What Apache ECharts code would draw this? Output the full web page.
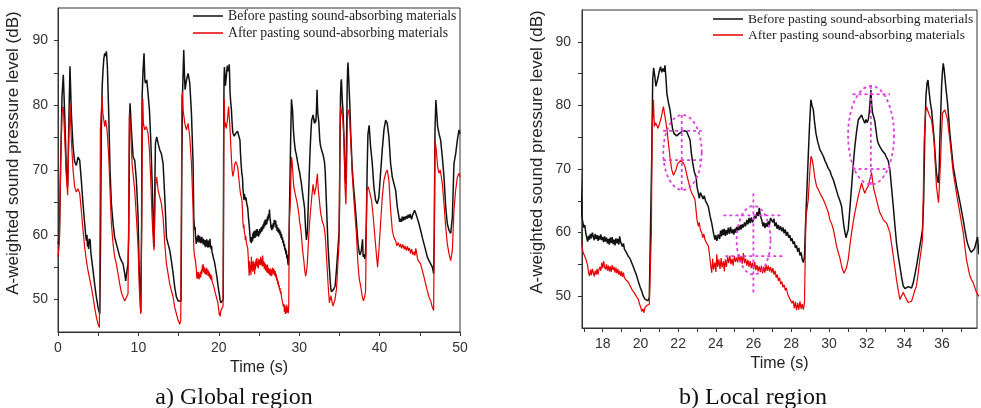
<!DOCTYPE html>
<html>
<head>
    <meta charset="utf-8">
    <title>A-weighted sound pressure level</title>
    <script src="https://cdn.jsdelivr.net/npm/echarts@6/dist/echarts.min.js"></script>
</head>
<body style="margin: 0; padding: 0; background: #fff;">
<div id="main" style="width: 981px; height: 408px;"></div>
<script type="text/javascript">
    // series names (legend)
    var nameBefore = 'Before pasting sound-absorbing materials';
    var nameAfter = 'After pasting sound-absorbing materials';

    // [time (s), dB], black curve
    var beforePts = [
        [0,58.6],[0.17,59.6],[0.33,71.0],[0.5,81.3],[0.66,84.7],[0.83,78.7],[1.04,70.0],[1.2,67.4],[1.37,78.7],[1.49,86.0],
        [1.66,78.7],[1.87,73.6],[2.07,71.3],[2.28,70.7],[2.49,72.0],[2.7,71.5],[2.9,68.4],[3.11,64.8],[3.32,61.7],[3.45,59.8],
        [3.53,59.1],[3.6,60.0],[3.67,58.2],[3.73,59.0],[3.8,57.8],[3.87,59.4],[3.94,58.6],[4.0,59.3],[4.07,57.5],[4.15,56.6],
        [4.25,55.6],[4.36,54.5],[4.46,53.4],[4.56,52.4],[4.67,51.3],[4.77,50.4],[4.88,49.6],[4.98,48.8],[5.1,48.2],[5.2,47.8],
        [5.3,60.0],[5.39,76.2],[5.5,83.0],[5.6,85.4],[5.7,87.2],[5.81,88.0],[5.92,87.6],[6.02,88.3],[6.14,86.0],[6.31,78.7],
        [6.47,70.0],[6.64,64.8],[6.85,61.7],[7.05,59.6],[7.26,58.6],[7.47,57.6],[7.68,56.6],[7.88,56.0],[8.09,55.5],[8.3,54.0],
        [8.42,52.9],[8.59,54.5],[8.71,55.5],[8.8,60.0],[8.9,78.0],[8.96,80.3],[9.13,76.2],[9.34,72.0],[9.54,71.5],[9.75,68.4],
        [9.96,62.7],[10.08,55.5],[10.2,51.4],[10.3,48.0],[10.4,62.0],[10.46,81.3],[10.58,85.4],[10.7,88.0],[10.8,84.0],[10.87,83.4],
        [11.04,83.9],[11.2,81.8],[11.37,79.3],[11.54,74.6],[11.7,68.4],[11.87,60.7],[11.95,58.1],[12.05,68.0],[12.12,74.1],[12.28,75.1],
        [12.45,74.1],[12.66,73.1],[12.86,72.5],[13.07,71.0],[13.28,65.8],[13.49,59.6],[13.69,58.6],[13.9,57.6],[14.1,56.0],[14.32,54.0],
        [14.52,51.9],[14.73,50.4],[14.94,49.8],[15.15,49.6],[15.3,49.8],[15.4,70.0],[15.48,81.3],[15.64,88.5],[15.75,84.0],[15.81,82.4],
        [15.98,83.9],[16.18,84.9],[16.39,83.4],[16.6,78.7],[16.8,71.0],
        [16.89,62.6],[16.95,61.5],[17.0,60.8],[17.05,61.2],[17.1,59.9],[17.15,59.7],[17.2,58.6],[17.25,59.5],[17.3,58.9],[17.35,59.8],
        [17.4,59.1],[17.45,60.0],[17.5,59.4],[17.55,58.8],[17.6,59.8],[17.65,59.0],[17.7,59.6],[17.75,58.7],[17.8,59.5],[17.85,58.9],
        [17.9,59.7],[17.95,58.8],[18.0,59.3],[18.05,58.5],[18.1,59.4],[18.15,58.6],[18.2,59.2],[18.25,58.3],[18.3,59.0],[18.35,58.1],
        [18.4,59.2],[18.45,58.4],[18.5,59.3],[18.55,58.2],[18.6,58.9],[18.65,58.0],[18.7,59.1],[18.75,58.3],[18.8,59.0],[18.85,58.1],
        [18.9,59.4],[18.95,58.5],[19.0,58.7],[19.05,57.8],[19.1,58.3],[19.15,57.4],[19.2,57.6],[19.25,56.9],[19.3,57.0],[19.35,56.3],
        [19.4,56.6],[19.45,55.9],[19.5,55.6],[19.6,54.8],[19.7,54.0],[19.8,53.2],[19.9,52.2],[20.0,51.3],[20.07,50.8],[20.15,50.0],
        [20.25,49.5],[20.33,49.6],[20.4,49.3],[20.47,49.8],[20.55,50.0],[20.6,72.0],[20.65,84.0],[20.7,85.9],[20.76,84.6],[20.82,83.0],
        [20.88,82.8],[20.94,84.5],[21.0,85.4],[21.07,86.1],[21.13,85.2],[21.2,85.8],[21.26,85.3],[21.3,86.3],[21.36,84.0],[21.4,81.9],
        [21.48,80.5],[21.57,79.3],[21.64,77.6],[21.71,76.2],[21.78,75.6],[21.85,75.9],[21.92,75.2],[22.0,74.9],[22.07,75.6],[22.13,75.3],
        [22.19,75.9],[22.26,75.6],[22.33,76.0],[22.4,75.8],[22.45,75.9],[22.54,75.7],[22.63,74.6],[22.7,72.5],[22.77,71.0],[22.86,69.5],
        [22.95,68.8],[23.0,67.2],[23.07,66.2],[23.12,65.4],[23.18,66.3],[23.25,66.0],[23.32,65.3],[23.38,65.8],[23.45,65.0],[23.52,64.8],
        [23.6,64.1],[23.7,62.5],[23.78,61.5],[23.87,60.0],[23.95,58.9],[24.0,59.6],[24.05,58.7],[24.13,59.7],[24.2,59.0],[24.25,60.3],
        [24.3,59.4],[24.35,60.5],[24.4,59.6],[24.45,60.6],[24.5,59.5],[24.55,60.4],[24.6,59.7],[24.66,60.8],[24.72,59.8],[24.78,60.9],
        [24.84,59.9],[24.9,60.5],[24.95,59.7],[25.0,60.6],[25.05,60.0],[25.1,60.9],[25.15,60.2],[25.2,61.0],[25.25,60.4],[25.3,61.2],
        [25.35,60.5],[25.4,61.3],[25.46,60.8],[25.52,61.6],[25.58,61.0],[25.64,62.0],[25.7,61.3],[25.76,62.3],[25.82,61.5],[25.88,62.4],
        [25.94,61.6],[26.0,62.0],[26.06,62.8],[26.12,62.2],[26.18,63.2],[26.24,62.6],[26.3,63.9],[26.36,62.7],[26.43,62.0],[26.5,61.0],
        [26.55,61.6],[26.6,60.7],[26.66,61.5],[26.72,60.9],[26.78,61.8],[26.84,61.2],[26.9,62.3],[26.96,62.6],[27.02,61.6],[27.08,62.2],
        [27.13,61.0],[27.2,61.6],[27.25,60.6],[27.31,61.2],[27.37,60.4],[27.43,61.0],[27.5,60.2],[27.56,60.8],[27.62,59.9],[27.68,60.5],
        [27.74,59.5],[27.8,60.1],[27.86,59.2],[27.92,59.6],[27.98,58.7],[28.04,59.1],[28.1,58.2],[28.16,58.6],[28.22,57.6],[28.28,58.0],
        [28.34,57.0],[28.4,57.6],[28.46,56.4],[28.52,56.9],[28.58,55.8],[28.64,55.3],[28.7,56.2],[28.74,60.0],[28.78,63.1],[28.84,67.5],
        [28.9,72.0],[28.97,77.0],[29.04,80.9],[29.1,80.0],[29.17,79.3],[29.24,77.2],[29.31,75.6],[29.4,74.3],[29.52,73.0],[29.6,72.6],
        [29.7,72.0],[29.8,71.2],[29.87,70.8],[29.96,70.1],[30.05,69.7],[30.14,68.9],[30.23,68.3],[30.32,67.4],[30.4,66.6],[30.49,65.7],
        [30.58,65.0],[30.67,64.1],[30.73,62.5],[30.79,61.0],[30.85,60.0],[30.9,59.2],[30.96,59.5],[31.02,60.5],[31.1,63.5],[31.2,67.3],
        [31.28,70.5],[31.37,73.5],[31.46,75.8],[31.55,77.7],[31.64,78.0],[31.73,78.5],[31.8,77.9],[31.9,77.2],[31.96,77.8],[32.02,77.3],
        [32.08,77.7],[32.14,79.0],[32.22,82.4],[32.27,80.0],[32.31,78.8],[32.37,78.2],[32.43,77.5],[32.5,76.0],[32.56,74.6],[32.63,73.9],
        [32.7,73.5],[32.8,73.0],[32.88,72.8],[32.96,72.4],[33.05,72.2],[33.14,71.3],[33.23,69.9],[33.32,67.0],[33.41,64.1],[33.5,61.0],
        [33.58,58.4],[33.67,56.4],[33.76,54.7],[33.85,53.0],[33.94,51.6],[34.03,51.2],[34.11,51.1],[34.2,51.5],[34.29,51.6],[34.38,51.3],
        [34.47,52.1],[34.55,53.3],[34.64,54.7],[34.73,56.3],[34.82,57.9],[34.9,59.3],[34.96,60.5],[35.02,65.0],[35.08,75.0],[35.14,81.4],
        [35.2,83.5],[35.25,84.0],[35.32,81.9],[35.38,80.3],[35.44,79.3],[35.51,77.0],[35.58,74.6],[35.64,71.8],[35.7,69.4],[35.76,68.2],
        [35.81,67.8],[35.85,70.5],[35.88,74.6],[35.93,79.0],[35.97,82.9],[36.02,85.4],[36.06,86.6],[36.11,85.6],[36.16,84.0],[36.22,82.2],
        [36.29,80.3],[36.35,78.0],[36.41,75.6],[36.5,73.0],[36.59,70.4],[36.68,68.8],[36.77,67.3],[36.86,66.0],[36.95,64.7],[37.03,63.4],
        [37.12,62.0],[37.2,60.5],[37.3,58.9],[37.38,58.0],[37.47,57.3],[37.55,56.9],[37.65,56.8],[37.72,57.5],[37.79,57.3],
        [37.88,59.3],[37.95,56.6],[38.05,57.0],[38.15,56.3],[38.25,57.0],[38.35,62.0],[38.45,70.0],[38.55,75.5],[38.7,76.9],[38.88,73.6],
        [39.09,71.0],[39.29,67.4],[39.5,65.3],[39.7,64.8],[39.91,65.8],[40.12,69.5],[40.33,73.1],[40.54,76.2],[40.75,77.7],[40.95,77.2],
        [41.16,75.1],[41.37,71.0],[41.58,68.9],[41.78,67.9],[41.99,66.9],[42.2,64.3],[42.41,62.7],[42.5,62.0],[42.61,62.5],[42.72,62.0],
        [42.82,62.8],[42.95,62.2],[43.05,62.8],[43.15,62.3],[43.3,62.9],[43.44,62.5],[43.55,63.1],[43.69,62.6],[43.8,63.2],[43.98,62.4],
        [44.1,63.0],[44.23,62.8],[44.35,63.8],[44.48,64.0],[44.58,63.0],[44.69,62.7],[44.9,61.7],[45.1,60.7],[45.31,59.6],[45.52,58.6],
        [45.73,57.6],[45.93,56.6],[46.14,56.0],[46.35,55.5],[46.56,55.0],[46.72,54.0],[46.8,60.0],[46.89,76.2],[47.0,80.8],[47.1,79.0],
        [47.22,76.7],[47.39,75.6],[47.59,74.6],[47.8,72.0],[48.01,68.9],[48.22,64.3],[48.42,61.7],[48.63,60.7],[48.84,60.2],[49.05,62.7],
        [49.25,71.0],[49.46,72.5],[49.67,74.6],[49.88,76.2],[50.0,75.6]
    ];

    // [time (s), dB], red curve
    var afterPts = [
        [0,56.6],[0.17,58.6],[0.33,71.0],[0.5,78.7],[0.66,79.8],[0.83,75.1],[1.04,68.9],[1.2,66.1],[1.37,76.2],[1.49,80.3],
        [1.66,74.6],[1.87,70.0],[2.07,67.4],[2.28,66.6],[2.49,67.1],[2.7,66.4],[2.9,63.8],[3.11,60.7],[3.32,58.1],[3.53,56.0],
        [3.73,54.5],[3.94,53.2],[4.15,51.9],[4.36,50.4],[4.56,48.8],[4.77,47.3],[4.98,46.2],[5.15,45.7],[5.22,60.0],[5.27,76.2],
        [5.38,79.0],[5.48,81.5],[5.56,79.0],[5.64,78.2],[5.81,76.7],[5.93,77.7],[6.1,76.2],[6.31,72.0],[6.47,66.9],[6.64,61.7],
        [6.85,58.6],[7.05,56.6],[7.26,55.5],[7.47,54.0],[7.68,52.4],[7.88,51.1],[8.09,50.4],[8.3,49.8],[8.51,50.1],[8.71,50.9],
        [8.8,65.0],[8.88,78.7],[9.05,76.2],[9.21,71.0],[9.38,68.9],[9.54,66.9],[9.75,62.7],[9.96,58.1],[10.12,51.4],[10.29,47.8],
        [10.4,60.0],[10.46,71.0],[10.55,81.0],[10.62,77.2],[10.79,76.2],[11.0,76.7],[11.2,75.6],[11.37,73.1],[11.54,68.4],[11.7,62.7],
        [11.87,58.6],[11.95,57.6],[12.05,64.0],[12.12,67.4],[12.28,68.9],[12.45,66.9],[12.66,65.8],[12.86,64.8],[13.07,62.7],[13.28,58.6],
        [13.49,55.5],[13.69,54.0],[13.9,52.4],[14.1,51.4],[14.32,50.4],[14.52,48.8],[14.73,47.8],[14.94,46.8],[15.15,46.2],[15.27,46.8],
        [15.35,65.0],[15.4,81.3],[15.48,82.0],[15.56,79.3],[15.77,77.2],[15.98,76.2],[16.18,77.2],[16.39,75.1],[16.6,71.0],[16.8,64.0],
        [16.89,57.9],[16.95,57.0],[17.0,56.6],[17.05,56.9],[17.1,55.9],[17.15,55.8],[17.2,54.8],[17.25,53.6],[17.3,53.2],[17.35,54.2],
        [17.4,53.3],[17.45,54.3],[17.5,54.0],[17.55,53.1],[17.6,54.0],[17.65,53.4],[17.7,54.3],[17.75,53.4],[17.8,54.2],[17.85,54.6],
        [17.9,54.0],[17.95,55.3],[18.0,54.4],[18.05,55.5],[18.1,54.6],[18.15,54.2],[18.2,55.0],[18.25,54.0],[18.3,54.8],[18.35,53.9],
        [18.4,54.7],[18.45,53.8],[18.5,54.9],[18.55,54.1],[18.6,54.6],[18.65,53.7],[18.7,54.5],[18.75,53.6],[18.8,54.3],[18.85,53.4],
        [18.9,54.0],[18.95,53.2],[19.0,53.9],[19.05,53.0],[19.1,53.7],[19.15,52.9],[19.2,53.2],[19.25,52.5],[19.3,52.8],[19.36,52.2],
        [19.42,51.8],[19.5,51.6],[19.56,51.0],[19.63,51.1],[19.7,50.4],[19.8,49.9],[19.89,49.5],[19.95,48.8],[20.01,48.3],[20.07,47.6],
        [20.13,48.0],[20.18,47.4],[20.24,48.2],[20.3,48.0],[20.36,48.6],[20.42,48.3],[20.47,48.7],[20.53,49.0],[20.58,60.0],[20.62,76.7],
        [20.67,79.0],[20.69,80.9],[20.72,78.0],[20.74,76.7],[20.8,77.3],[20.86,77.5],[20.93,76.4],[21.0,76.7],[21.07,77.7],[21.13,78.5],
        [21.18,79.3],[21.22,79.8],[21.28,78.6],[21.36,77.2],[21.42,75.8],[21.48,74.1],[21.57,71.8],[21.66,69.9],[21.75,69.0],[21.83,69.1],
        [21.9,70.0],[21.97,70.8],[22.04,71.0],[22.12,71.3],[22.19,71.5],[22.27,71.0],[22.36,70.4],[22.45,69.2],[22.54,68.1],[22.63,67.0],
        [22.72,66.2],[22.8,65.8],[22.89,65.2],[22.95,63.5],[23.0,62.0],[23.07,61.0],[23.12,61.6],[23.18,60.4],[23.25,60.0],[23.3,59.2],
        [23.36,59.8],[23.42,58.9],[23.48,58.5],[23.55,58.2],[23.6,57.9],[23.66,56.6],[23.72,55.0],[23.78,53.7],[23.83,55.9],[23.88,54.2],
        [23.95,55.3],[24.0,53.8],[24.05,56.6],[24.1,54.6],[24.16,55.8],[24.22,54.3],[24.28,56.0],[24.33,54.5],[24.4,55.5],[24.45,53.9],
        [24.5,55.8],[24.56,54.6],[24.62,56.2],[24.68,55.2],[24.74,56.4],[24.8,55.0],[24.86,55.9],[24.92,54.8],[24.98,56.3],[25.04,55.4],
        [25.1,56.1],[25.16,55.3],[25.22,56.6],[25.28,55.4],[25.34,56.3],[25.4,55.1],[25.46,56.8],[25.52,55.2],[25.58,55.9],[25.64,54.8],
        [25.7,55.7],[25.76,54.6],[25.82,55.5],[25.88,54.4],[25.94,55.3],[26.0,54.2],[26.06,55.4],[26.12,54.1],[26.18,54.9],[26.24,53.9],
        [26.3,54.7],[26.36,53.8],[26.42,54.8],[26.48,53.6],[26.54,54.6],[26.6,53.7],[26.66,54.9],[26.72,54.0],[26.78,54.8],[26.84,53.9],
        [26.9,54.6],[26.96,53.7],[27.02,54.4],[27.08,53.4],[27.14,54.0],[27.2,52.9],[27.26,53.4],[27.32,52.4],[27.38,52.9],[27.44,51.9],
        [27.5,52.3],[27.56,51.4],[27.62,51.8],[27.68,50.9],[27.74,51.3],[27.8,50.4],[27.86,50.7],[27.92,49.6],[27.98,49.9],[28.04,48.9],
        [28.1,49.3],[28.16,48.1],[28.22,49.1],[28.28,47.8],[28.34,48.9],[28.4,47.9],[28.46,49.2],[28.52,48.0],[28.58,48.8],[28.64,47.9],
        [28.7,49.0],[28.75,58.0],[28.78,62.6],[28.84,63.8],[28.9,65.2],[28.97,69.0],[29.04,72.0],[29.1,71.6],[29.17,70.4],[29.25,68.6],
        [29.34,67.3],[29.43,66.8],[29.52,66.2],[29.61,65.7],[29.7,65.2],[29.8,64.5],[29.87,64.2],[29.96,63.2],[30.05,62.0],[30.14,61.4],
        [30.23,60.5],[30.32,59.2],[30.4,57.9],[30.49,56.9],[30.58,56.0],[30.65,55.0],[30.72,54.2],[30.8,53.6],[30.84,53.4],[30.93,54.5],
        [31.02,55.8],[31.11,58.0],[31.2,60.0],[31.28,61.6],[31.37,63.1],[31.46,64.4],[31.55,65.7],[31.64,66.8],[31.73,67.8],[31.8,67.0],
        [31.9,66.2],[31.98,66.8],[32.08,67.3],[32.16,68.3],[32.26,69.4],[32.32,68.0],[32.38,66.8],[32.45,66.0],[32.52,65.2],[32.6,64.2],
        [32.7,63.1],[32.78,62.7],[32.88,62.0],[32.96,61.8],[33.05,61.5],[33.14,60.8],[33.23,60.0],[33.32,58.2],[33.41,56.3],[33.5,54.4],
        [33.58,52.6],[33.67,51.0],[33.76,49.5],[33.85,49.8],[33.94,50.6],[34.03,50.0],[34.11,49.5],[34.2,49.0],[34.29,48.7],[34.38,49.2],
        [34.47,50.1],[34.55,50.9],[34.64,51.6],[34.73,53.6],[34.82,55.8],[34.9,57.4],[34.96,58.9],[35.05,74.6],[35.12,78.8],[35.17,79.8],
        [35.25,79.5],[35.32,78.5],[35.38,78.2],[35.44,77.7],[35.51,76.0],[35.58,74.1],[35.64,70.6],[35.7,67.3],[35.76,65.8],[35.81,64.7],
        [35.86,67.5],[35.92,71.5],[35.97,75.5],[36.02,78.8],[36.08,79.0],[36.14,79.3],[36.22,78.5],[36.29,77.7],[36.35,76.0],[36.41,74.6],
        [36.5,72.0],[36.59,69.4],[36.68,67.8],[36.76,66.2],[36.85,64.6],[36.94,63.1],[37.03,61.5],[37.12,60.0],[37.2,58.0],[37.29,55.8],
        [37.38,54.5],[37.47,53.2],[37.56,52.6],[37.65,52.1],[37.74,51.3],[37.82,50.6],[37.9,50.2],[38.0,49.8],[38.05,49.6],[38.15,50.5],
        [38.26,51.4],[38.34,60.0],[38.42,66.9],[38.5,67.0],[38.59,67.4],[38.8,66.4],[39.0,65.3],[39.21,62.7],[39.42,59.6],[39.63,56.6],
        [39.75,55.0],[39.91,57.6],[40.12,61.7],[40.33,65.8],[40.54,68.4],[40.75,69.5],[40.95,70.0],[41.16,68.4],[41.37,63.8],[41.58,60.7],
        [41.78,59.6],[41.99,59.1],[42.15,58.3],[42.32,58.8],[42.5,58.1],[42.62,58.6],[42.74,57.9],[42.9,58.5],[43.05,57.8],[43.15,58.3],
        [43.3,57.6],[43.45,58.2],[43.57,57.5],[43.7,58.0],[43.85,57.1],[43.98,57.8],[44.15,56.9],[44.3,57.4],[44.4,56.8],[44.5,57.9],
        [44.61,57.2],[44.7,56.4],[44.81,56.0],[45.1,55.5],[45.31,54.5],[45.52,53.5],[45.73,52.4],[45.93,51.4],[46.14,50.4],[46.35,49.8],
        [46.56,48.8],[46.72,48.3],[46.8,60.0],[46.89,74.6],[47.05,73.1],[47.22,70.5],[47.39,69.5],[47.55,70.0],[47.8,67.9],[48.01,64.8],
        [48.22,61.2],[48.42,58.6],[48.63,57.1],[48.84,56.0],[49.05,57.6],[49.25,63.8],[49.46,66.9],[49.67,68.9],[49.88,69.5],[50.0,68.9]
    ];

    // tick values
    var globalXTicks = [0, 5, 10, 15, 20, 25, 30, 35, 40, 45, 50];
    var globalXLabels = [0, 10, 20, 30, 40, 50];
    var localXTicks = [17, 18, 19, 20, 21, 22, 23, 24, 25, 26, 27, 28, 29, 30, 31, 32, 33, 34, 35, 36, 37];
    var localXLabels = [18, 20, 22, 24, 26, 28, 30, 32, 34, 36];
    var yTicks = [50, 55, 60, 65, 70, 75, 80, 85, 90];
    var yLabels = [50, 60, 70, 80, 90];

    // magenta marks on the local plot: [centre time, centre dB, half width s, half height dB]
    var markEllipses = [[22.23, 72.6, 1.02, 5.9], [26.0, 58.8, 0.9, 5.4], [32.23, 75.3, 1.22, 7.76]];
    // [t1, dB1, t2, dB2]
    var markSegments = [
        [21.2, 76.0, 23.25, 76.0], [21.2, 71.4, 23.25, 71.4], [22.19, 66.7, 22.19, 78.5],
        [24.4, 62.7, 27.54, 62.7], [24.5, 56.3, 27.6, 56.3], [25.99, 50.6, 25.99, 66.5],
        [31.25, 81.75, 33.23, 81.75], [31.25, 70.0, 33.23, 70.0], [32.22, 67.5, 32.22, 83.1]
    ];

    var axisColor = '#333';
    var sans = '"Liberation Sans", Arial, sans-serif';
    var serif = '"Liberation Serif", "Times New Roman", serif';
    var magenta = '#e03fe0';

    function xAxisOf(grid, min, max, ticks, labels, gap) {
        return {
            type: 'value', gridIndex: grid, min: min, max: max,
            name: 'Time (s)', nameLocation: 'middle', nameGap: gap,
            nameTextStyle: {fontFamily: sans, fontSize: 16, color: '#222'},
            axisLine: {show: true, onZero: false, lineStyle: {color: axisColor, width: 1}},
            axisTick: {show: true, inside: false, length: 4, customValues: ticks, lineStyle: {color: axisColor}},
            axisLabel: {customValues: labels, margin: 9, fontFamily: sans, fontSize: 14, color: '#333'},
            splitLine: {show: false}
        };
    }
    function yAxisOf(grid, margin) {
        return {
            type: 'value', gridIndex: grid, min: 45, max: 95,
            name: 'A-weighted sound pressure level (dB)', nameLocation: 'middle', nameGap: 36,
            // the title sits a little above the middle of the axis
            nameTextStyle: {fontFamily: sans, fontSize: 17, color: '#222', padding: [0, 0, 0, 34]},
            axisLine: {show: true, lineStyle: {color: axisColor, width: 1}},
            axisTick: {show: true, inside: false, length: 4, customValues: yTicks, lineStyle: {color: axisColor}},
            axisLabel: {customValues: yLabels, margin: margin, fontFamily: sans, fontSize: 14, color: '#333'},
            splitLine: {show: false}
        };
    }
    function legendAt(left, top, size, gap) {
        return {
            left: left, top: top, orient: 'vertical', selectedMode: false, padding: 0,
            icon: 'rect', itemWidth: 30, itemHeight: 1.5, itemGap: gap,
            data: [nameBefore, nameAfter],
            textStyle: {fontFamily: serif, fontSize: size, color: '#222'}
        };
    }
    function lineSeries(name, data, axis, color, width) {
        return {
            name: name, type: 'line', xAxisIndex: axis, yAxisIndex: axis,
            data: data, symbol: 'none', clip: true,
            lineStyle: {color: color, width: width}, itemStyle: {color: color}
        };
    }

    var myChart = echarts.init(document.getElementById('main'));
    var option = {
        animation: false,
        backgroundColor: '#fff',
        grid: [
            {left: 58, top: 8, width: 402, height: 324, show: true, borderColor: axisColor, borderWidth: 1},
            {left: 582, top: 10, width: 395, height: 318, show: true, borderColor: axisColor, borderWidth: 1}
        ],
        xAxis: [
            xAxisOf(0, 0, 50, globalXTicks, globalXLabels, 27),
            xAxisOf(1, 16.9, 37.85, localXTicks, localXLabels, 27)
        ],
        yAxis: [yAxisOf(0, 10), yAxisOf(1, 11)],
        legend: [legendAt(193, 9, 13.7, 3), legendAt(713, 12, 13.5, 2)],
        graphic: [
            {type: 'text', x: 234, y: 398, style: {text: 'a) Global region', font: '24px ' + serif, fill: '#111',
                align: 'center', verticalAlign: 'middle', textAlign: 'center', textVerticalAlign: 'middle'}},
            {type: 'text', x: 753, y: 398, style: {text: 'b) Local region', font: '24px ' + serif, fill: '#111',
                align: 'center', verticalAlign: 'middle', textAlign: 'center', textVerticalAlign: 'middle'}}
        ],
        series: [
            lineSeries(nameBefore, beforePts, 0, '#111', 1.5),
            lineSeries(nameAfter, afterPts, 0, '#e60000', 1.2),
            lineSeries(nameBefore, beforePts, 1, '#111', 1.5),
            lineSeries(nameAfter, afterPts, 1, '#e60000', 1.2),
            {
                type: 'custom', xAxisIndex: 1, yAxisIndex: 1, data: markEllipses, z: 5, silent: true,
                renderItem: function (params, api) {
                    var c = api.coord([api.value(0), api.value(1)]);
                    var s = api.size([api.value(2), api.value(3)]);
                    var pts = [];
                    for (var k = 0; k <= 60; k++) {
                        var a = k / 60 * Math.PI * 2;
                        pts.push([c[0] + s[0] * Math.cos(a), c[1] + s[1] * Math.sin(a)]);
                    }
                    return {type: 'polyline', shape: {points: pts},
                        style: {fill: null, stroke: magenta, lineWidth: 1.8, lineDash: [3, 3]}};
                }
            },
            {
                type: 'custom', xAxisIndex: 1, yAxisIndex: 1, data: markSegments, z: 5, silent: true,
                renderItem: function (params, api) {
                    var p1 = api.coord([api.value(0), api.value(1)]);
                    var p2 = api.coord([api.value(2), api.value(3)]);
                    return {type: 'line', shape: {x1: p1[0], y1: p1[1], x2: p2[0], y2: p2[1]},
                        style: {stroke: magenta, lineWidth: 1.8, lineDash: [3, 3]}};
                }
            }
        ]
    };
    myChart.setOption(option);
</script>
</body>
</html>
